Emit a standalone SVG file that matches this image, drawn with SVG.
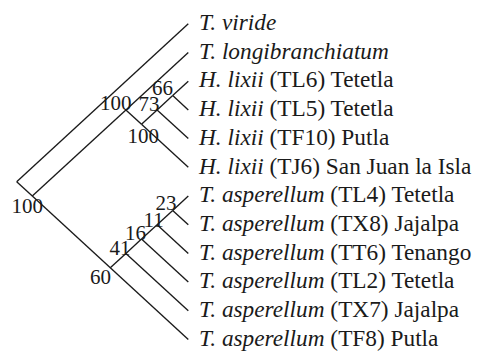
<svg xmlns="http://www.w3.org/2000/svg" width="480" height="351" viewBox="0 0 480 351">
  <style>
    .edge { stroke: #1a1a1a; stroke-width: 1.35; stroke-linecap: butt; fill: none; }
    .sp { font-style: italic; }
  </style>
  <rect width="480" height="351" fill="#ffffff"/>

  <!-- branches of the slanted cladogram -->
  <g id="connectors">
    <line class="edge" x1="16.7" y1="181.7" x2="188.3" y2="23.8"/>
    <line class="edge" x1="16.7" y1="181.7" x2="32.3" y2="196.0"/>
    <line class="edge" x1="32.3" y1="196.0" x2="125.9" y2="109.9"/>
    <line class="edge" x1="32.3" y1="196.0" x2="110.3" y2="267.8"/>
    <line class="edge" x1="125.9" y1="109.9" x2="188.3" y2="52.5"/>
    <line class="edge" x1="125.9" y1="109.9" x2="141.5" y2="124.3"/>
    <line class="edge" x1="141.5" y1="124.3" x2="157.1" y2="109.9"/>
    <line class="edge" x1="141.5" y1="124.3" x2="188.3" y2="167.3"/>
    <line class="edge" x1="157.1" y1="109.9" x2="172.7" y2="95.6"/>
    <line class="edge" x1="157.1" y1="109.9" x2="188.3" y2="138.6"/>
    <line class="edge" x1="172.7" y1="95.6" x2="188.3" y2="81.2"/>
    <line class="edge" x1="172.7" y1="95.6" x2="188.3" y2="109.9"/>
    <line class="edge" x1="110.3" y1="267.8" x2="125.9" y2="253.4"/>
    <line class="edge" x1="110.3" y1="267.8" x2="188.3" y2="339.5"/>
    <line class="edge" x1="125.9" y1="253.4" x2="141.5" y2="239.1"/>
    <line class="edge" x1="125.9" y1="253.4" x2="188.3" y2="310.8"/>
    <line class="edge" x1="141.5" y1="239.1" x2="157.1" y2="224.7"/>
    <line class="edge" x1="141.5" y1="239.1" x2="188.3" y2="282.1"/>
    <line class="edge" x1="157.1" y1="224.7" x2="172.7" y2="210.4"/>
    <line class="edge" x1="157.1" y1="224.7" x2="188.3" y2="253.4"/>
    <line class="edge" x1="172.7" y1="210.4" x2="188.3" y2="196.0"/>
    <line class="edge" x1="172.7" y1="210.4" x2="188.3" y2="224.7"/>
  </g>

  <!-- internal nodes with bootstrap support -->
  <g font-family="Liberation Serif, serif" font-size="21" fill="#1a1a1a">
    <g id="node-root"><text x="11.5" y="213">100</text></g>
    <g id="node-ingroup-lixii"><text x="100" y="109.5">100</text></g>
    <g id="node-lixii"><text x="127.5" y="143.3">100</text></g>
    <g id="node-lixii-73"><text x="138.5" y="111">73</text></g>
    <g id="node-lixii-66"><text x="152" y="94.5">66</text></g>
    <g id="node-asperellum"><text x="90" y="283.5">60</text></g>
    <g id="node-asperellum-41"><text x="109.5" y="255">41</text></g>
    <g id="node-asperellum-16"><text x="125" y="240">16</text></g>
    <g id="node-asperellum-11"><text x="143.5" y="226.5">11</text></g>
    <g id="node-asperellum-23"><text x="155.5" y="209.5">23</text></g>
  </g>

  <!-- terminal taxa -->
  <g font-family="Liberation Serif, serif" font-size="23.3" fill="#1a1a1a">
    <g id="tip-viride"><text x="199" y="30"><tspan class="sp">T. viride</tspan></text></g>
    <g id="tip-longibranchiatum"><text x="199" y="58.7"><tspan class="sp">T. longibranchiatum</tspan></text></g>
    <g id="tip-TL6"><text x="199" y="87.4"><tspan class="sp">H. lixii</tspan> (TL6) Tetetla</text></g>
    <g id="tip-TL5"><text x="199" y="116.1"><tspan class="sp">H. lixii</tspan> (TL5) Tetetla</text></g>
    <g id="tip-TF10"><text x="199" y="144.8"><tspan class="sp">H. lixii</tspan> (TF10) Putla</text></g>
    <g id="tip-TJ6"><text x="199" y="173.5"><tspan class="sp">H. lixii</tspan> (TJ6) San Juan la Isla</text></g>
    <g id="tip-TL4"><text x="199" y="202.2"><tspan class="sp">T. asperellum</tspan> (TL4) Tetetla</text></g>
    <g id="tip-TX8"><text x="199" y="230.9"><tspan class="sp">T. asperellum</tspan> (TX8) Jajalpa</text></g>
    <g id="tip-TT6"><text x="199" y="259.6"><tspan class="sp">T. asperellum</tspan> (TT6) Tenango</text></g>
    <g id="tip-TL2"><text x="199" y="288.3"><tspan class="sp">T. asperellum</tspan> (TL2) Tetetla</text></g>
    <g id="tip-TX7"><text x="199" y="317"><tspan class="sp">T. asperellum</tspan> (TX7) Jajalpa</text></g>
    <g id="tip-TF8"><text x="199" y="345.7"><tspan class="sp">T. asperellum</tspan> (TF8) Putla</text></g>
  </g>
</svg>
